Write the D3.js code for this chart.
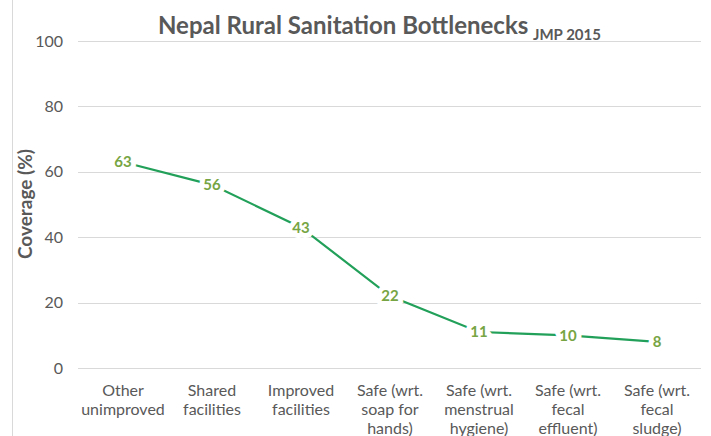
<!DOCTYPE html>
<html><head><meta charset="utf-8">
<script src="https://cdn.jsdelivr.net/npm/d3@7"></script>
<style>body{margin:0;background:#fff}svg{display:block}</style>
</head><body><svg id="c" width="711" height="436"></svg>
<script>
const categories = [
  ["Other", "unimproved"],
  ["Shared", "facilities"],
  ["Improved", "facilities"],
  ["Safe (wrt.", "soap for", "hands)"],
  ["Safe (wrt.", "menstrual", "hygiene)"],
  ["Safe (wrt.", "fecal", "effluent)"],
  ["Safe (wrt.", "fecal", "sludge)"]
];
const values = [63, 56, 43, 22, 11, 10, 8];
const yTicks = [0, 20, 40, 60, 80, 100];
const titleText = "Nepal Rural Sanitation Bottlenecks";
const subText = "JMP 2015";
const yTitle = "Coverage (%)";

const svg = d3.select("#c");
const font = "Lato, 'Open Sans', sans-serif";
const gray = "#595959";

const x = d3.scaleBand().domain(d3.range(categories.length)).range([78.5, 701.5]);
const y = d3.scaleLinear().domain([0, 100]).range([368, 41]);

// left border
svg.append("line").attr("x1", 12.5).attr("x2", 12.5).attr("y1", 0).attr("y2", 436)
  .attr("stroke", "#d9d9d9");

// gridlines
svg.append("g").selectAll("line").data(yTicks).join("line")
  .attr("x1", 78).attr("x2", 701)
  .attr("y1", d => Math.round(y(d)) + 0.5).attr("y2", d => Math.round(y(d)) + 0.5)
  .attr("stroke", "#d9d9d9").attr("stroke-width", 1);

// y tick labels
svg.append("g").selectAll("text").data(yTicks).join("text")
  .attr("x", 63).attr("y", d => y(d)).attr("dy", "0.35em")
  .attr("text-anchor", "end").attr("fill", gray)
  .style("font", `16px ${font}`).text(d => d);

// y title
svg.append("text").attr("transform", "translate(32,204) rotate(-90)")
  .attr("text-anchor", "middle").attr("fill", gray)
  .style("font", `bold 19px ${font}`).text(yTitle);

// x labels
const xl = svg.append("g").selectAll("text").data(categories).join("text")
  .attr("x", (d, i) => x(i) + x.bandwidth() / 2).attr("y", 396)
  .attr("text-anchor", "middle").attr("fill", gray)
  .style("font", `16px ${font}`);
xl.selectAll("tspan").data(d => d).join("tspan")
  .attr("x", function () { return d3.select(this.parentNode).attr("x"); })
  .attr("dy", (d, i) => i === 0 ? 0 : 19).text(d => d);

// line
const line = d3.line().x((d, i) => x(i) + x.bandwidth() / 2).y(d => y(d));
svg.append("path").datum(values).attr("d", line)
  .attr("fill", "none").attr("stroke", "#22a05a").attr("stroke-width", 2.2);

// data labels
svg.append("g").selectAll("text").data(values).join("text")
  .attr("x", (d, i) => x(i) + x.bandwidth() / 2).attr("y", d => y(d)).attr("dy", "0.35em")
  .attr("text-anchor", "middle").attr("fill", "#77a544")
  .attr("stroke", "#fff").attr("stroke-width", 10).attr("paint-order", "stroke")
  .attr("stroke-linejoin", "round")
  .style("font", `bold 15px ${font}`).text(d => d);

// title
const t = svg.append("text").attr("x", 158).attr("y", 34).attr("fill", gray)
  .style("font", `bold 24px ${font}`);
t.append("tspan").text(titleText);
t.append("tspan").attr("x", 533).attr("y", 40).style("font", `bold 15px ${font}`).text(subText);
</script></body></html>
